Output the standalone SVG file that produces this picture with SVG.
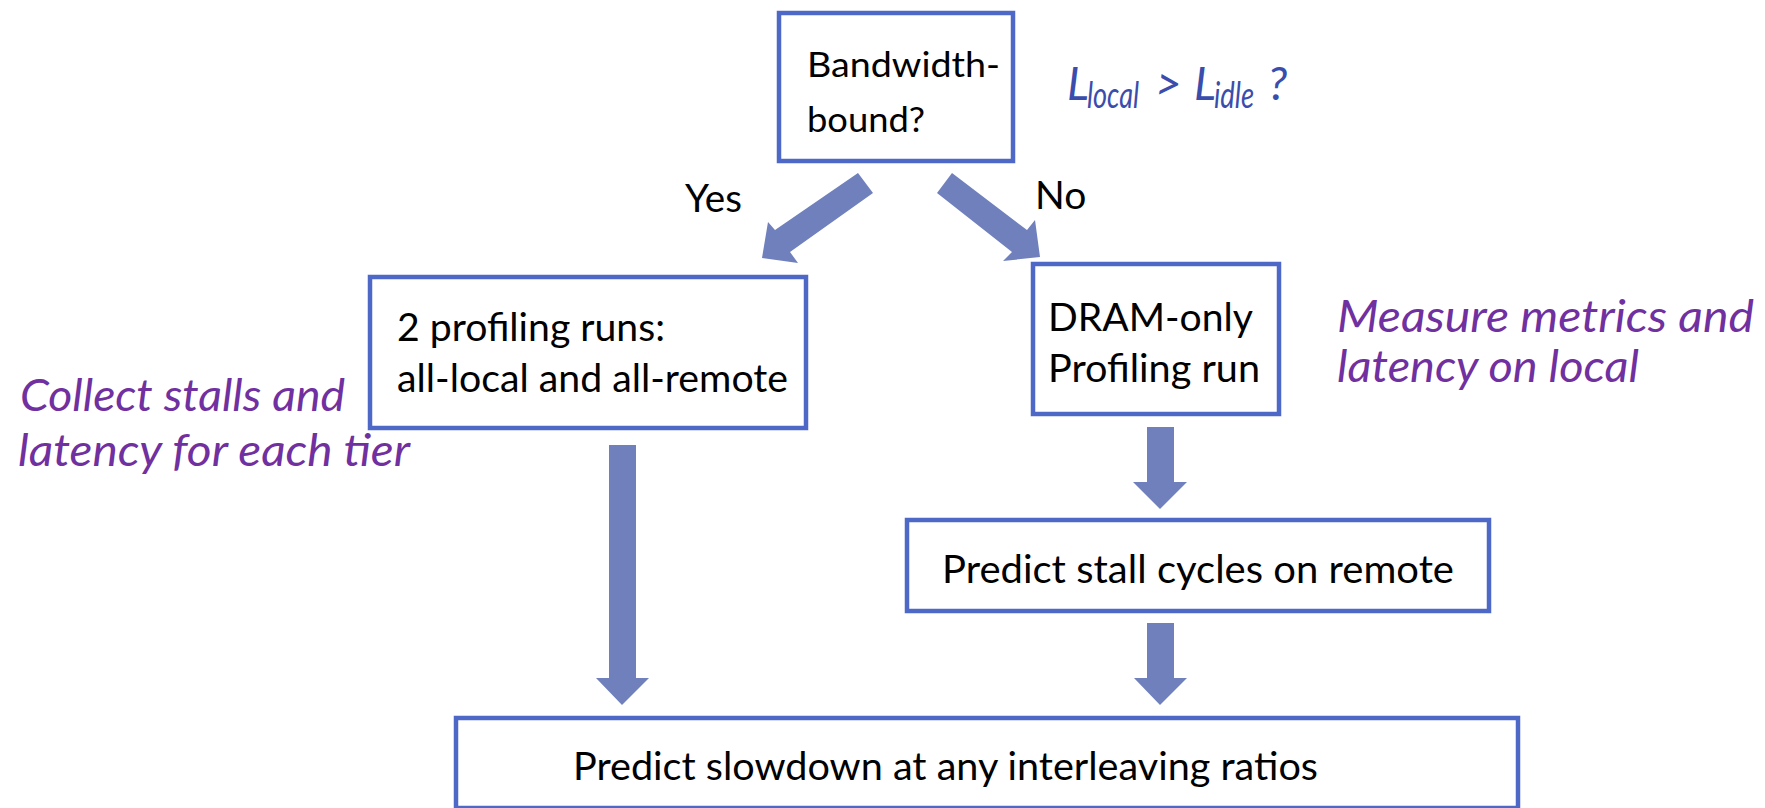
<svg xmlns="http://www.w3.org/2000/svg" width="1765" height="808" viewBox="0 0 1765 808">
  <style>
    .box { fill: #ffffff; stroke: #4E68C8; stroke-width: 4.5; }
    .label { font-family: Lato, "Liberation Sans", sans-serif; fill: #000000; }
    .note { font-family: Lato, "Liberation Sans", sans-serif; font-style: italic; fill: #7030A0; font-size: 45px; }
    .cond { font-family: Lato, "Liberation Sans", sans-serif; font-style: italic; fill: #3A4DAD; font-size: 46px; }
    .arrow { fill: #6F80BC; }
  </style>
  <rect width="1765" height="808" fill="#ffffff"/>

  <!-- connectors: thick block arrows -->
  <g id="connectors">
    <polygon class="arrow" points="858,173 873,193 790,252 798,263 762,258 768,222 775,230"/>
    <polygon class="arrow" points="952,173 937,193 1012,252 1003,261 1040,257 1035,220 1027,230"/>
    <polygon class="arrow" points="609,445 636,445 636,678 649,678 622,705 596,678 609,678"/>
    <polygon class="arrow" points="1147,427 1174,427 1174,482 1187,482 1160,509 1133,482 1147,482"/>
    <polygon class="arrow" points="1147,623 1174,623 1174,678 1187,678 1160,705 1134,678 1147,678"/>
  </g>

  <g id="bandwidth-bound">
    <rect class="box" x="779" y="13" width="234" height="148"/>
    <text class="label" font-size="34" x="807" y="77" textLength="193" lengthAdjust="spacingAndGlyphs">Bandwidth-</text>
    <text class="label" font-size="34" x="807" y="132" textLength="118" lengthAdjust="spacingAndGlyphs">bound?</text>
  </g>

  <g id="latency-condition">
    <text class="cond" x="1067" y="100">L<tspan x="1087" font-size="37" dy="8" textLength="52" lengthAdjust="spacingAndGlyphs">local</tspan><tspan x="1155" dy="-8">&gt;</tspan><tspan x="1194">L</tspan><tspan x="1214" font-size="37" dy="8" textLength="40" lengthAdjust="spacingAndGlyphs">idle</tspan><tspan x="1268" dy="-8">?</tspan></text>
  </g>

  <g id="branch-labels">
    <text class="label" font-size="39" x="685" y="212" textLength="57" lengthAdjust="spacingAndGlyphs">Yes</text>
    <text class="label" font-size="39" x="1035" y="209">No</text>
  </g>

  <g id="two-profiling-runs">
    <rect class="box" x="370" y="277" width="436" height="151"/>
    <text class="label" font-size="39" x="397" y="341" textLength="268" lengthAdjust="spacingAndGlyphs">2 profiling runs:</text>
    <text class="label" font-size="39" x="397" y="392" textLength="391" lengthAdjust="spacingAndGlyphs">all-local and all-remote</text>
  </g>

  <g id="collect-note">
    <text class="note" x="20" y="411" textLength="325" lengthAdjust="spacingAndGlyphs">Collect stalls and</text>
    <text class="note" x="18" y="466" textLength="392" lengthAdjust="spacingAndGlyphs">latency for each tier</text>
  </g>

  <g id="dram-only-run">
    <rect class="box" x="1033" y="264" width="246" height="150"/>
    <text class="label" font-size="39" x="1048" y="331" textLength="205" lengthAdjust="spacingAndGlyphs">DRAM-only</text>
    <text class="label" font-size="39" x="1048" y="382" textLength="212" lengthAdjust="spacingAndGlyphs">Profiling run</text>
  </g>

  <g id="measure-note">
    <text class="note" x="1337" y="332" textLength="417" lengthAdjust="spacingAndGlyphs">Measure metrics and</text>
    <text class="note" x="1337" y="382" textLength="302" lengthAdjust="spacingAndGlyphs">latency on local</text>
  </g>

  <g id="predict-stall">
    <rect class="box" x="907" y="520" width="582" height="91"/>
    <text class="label" font-size="39" x="942" y="583" textLength="512" lengthAdjust="spacingAndGlyphs">Predict stall cycles on remote</text>
  </g>

  <g id="predict-slowdown">
    <rect class="box" x="456" y="718" width="1062" height="90"/>
    <text class="label" font-size="39" x="573" y="780" textLength="745" lengthAdjust="spacingAndGlyphs">Predict slowdown at any interleaving ratios</text>
  </g>
</svg>
